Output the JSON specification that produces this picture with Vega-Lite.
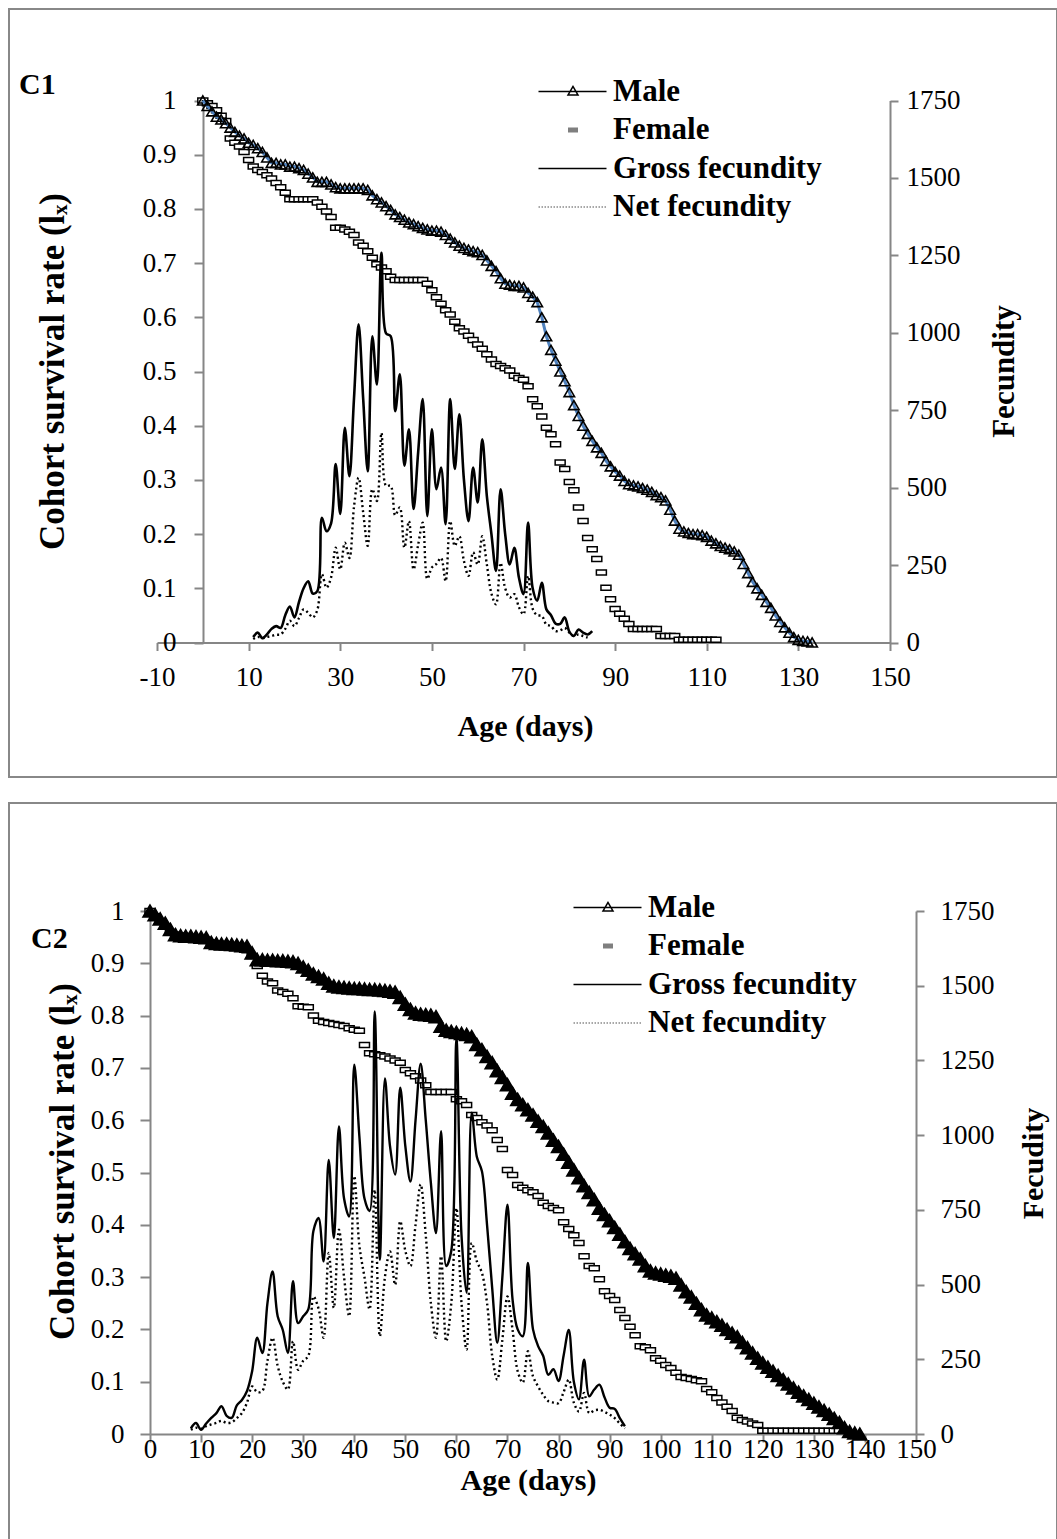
{
"$schema": "https://vega.github.io/schema/vega-lite/v6.json",
"padding": {"left": 8, "top": 8, "right": 1, "bottom": 0},
"background": "white",
"spacing": 24,
"config": {
  "view": {"stroke": "#888888", "strokeWidth": 2},
  "axis": {"domainColor": "#868686", "domainWidth": 2, "tickColor": "#868686", "tickWidth": 2, "tickSize": 8, "grid": false,
    "labelFont": "Liberation Serif", "labelFontSize": 27, "labelColor": "black", "labelOverlap": false, "labelFlush": false,
    "titleFont": "Liberation Serif", "titleFontSize": 30, "titleFontWeight": "bold", "titleColor": "black"},
  "legend": {"labelFont": "Liberation Serif", "labelFontSize": 31, "labelFontWeight": "bold", "labelColor": "black", "labelLimit": 0, "padding": 0, "symbolSize": 400, "labelOffset": 1, "rowPadding": 6.5, "direction": "vertical"}
},
"datasets": {
  "legend_items": [{"series": "Male"}, {"series": "Female"}, {"series": "Gross fecundity"}, {"series": "Net fecundity"}],
  "c1_male": [{"age":0,"lx":1},{"age":1,"lx":0.99},{"age":2,"lx":0.98},{"age":3,"lx":0.97},{"age":4,"lx":0.965},{"age":5,"lx":0.958},{"age":6,"lx":0.95},{"age":7,"lx":0.942},{"age":8,"lx":0.935},{"age":9,"lx":0.93},
    {"age":10,"lx":0.922},{"age":11,"lx":0.918},{"age":12,"lx":0.912},{"age":13,"lx":0.905},{"age":14,"lx":0.895},{"age":15,"lx":0.885},{"age":16,"lx":0.885},{"age":17,"lx":0.882},{"age":18,"lx":0.882},{"age":19,"lx":0.878},
    {"age":20,"lx":0.878},{"age":21,"lx":0.875},{"age":22,"lx":0.872},{"age":23,"lx":0.865},{"age":24,"lx":0.858},{"age":25,"lx":0.85},{"age":26,"lx":0.85},{"age":27,"lx":0.85},{"age":28,"lx":0.845},{"age":29,"lx":0.84},
    {"age":30,"lx":0.838},{"age":31,"lx":0.838},{"age":32,"lx":0.838},{"age":33,"lx":0.838},{"age":34,"lx":0.838},{"age":35,"lx":0.838},{"age":36,"lx":0.835},{"age":37,"lx":0.825},{"age":38,"lx":0.818},{"age":39,"lx":0.812},
    {"age":40,"lx":0.805},{"age":41,"lx":0.798},{"age":42,"lx":0.79},{"age":43,"lx":0.785},{"age":44,"lx":0.78},{"age":45,"lx":0.775},{"age":46,"lx":0.772},{"age":47,"lx":0.768},{"age":48,"lx":0.765},{"age":49,"lx":0.762},
    {"age":50,"lx":0.76},{"age":51,"lx":0.76},{"age":52,"lx":0.758},{"age":53,"lx":0.752},{"age":54,"lx":0.745},{"age":55,"lx":0.738},{"age":56,"lx":0.732},{"age":57,"lx":0.728},{"age":58,"lx":0.725},{"age":59,"lx":0.722},
    {"age":60,"lx":0.72},{"age":61,"lx":0.715},{"age":62,"lx":0.705},{"age":63,"lx":0.695},{"age":64,"lx":0.685},{"age":65,"lx":0.672},{"age":66,"lx":0.662},{"age":67,"lx":0.66},{"age":68,"lx":0.658},{"age":69,"lx":0.658},
    {"age":70,"lx":0.655},{"age":71,"lx":0.645},{"age":72,"lx":0.638},{"age":73,"lx":0.628},{"age":74,"lx":0.6},{"age":75,"lx":0.565},{"age":76,"lx":0.54},{"age":77,"lx":0.52},{"age":78,"lx":0.5},{"age":79,"lx":0.482},
    {"age":80,"lx":0.462},{"age":81,"lx":0.438},{"age":82,"lx":0.418},{"age":83,"lx":0.4},{"age":84,"lx":0.385},{"age":85,"lx":0.372},{"age":86,"lx":0.36},{"age":87,"lx":0.35},{"age":88,"lx":0.335},{"age":89,"lx":0.325},
    {"age":90,"lx":0.315},{"age":91,"lx":0.308},{"age":92,"lx":0.298},{"age":93,"lx":0.292},{"age":94,"lx":0.29},{"age":95,"lx":0.288},{"age":96,"lx":0.285},{"age":97,"lx":0.282},{"age":98,"lx":0.278},{"age":99,"lx":0.272},
    {"age":100,"lx":0.268},{"age":101,"lx":0.262},{"age":102,"lx":0.245},{"age":103,"lx":0.225},{"age":104,"lx":0.21},{"age":105,"lx":0.205},{"age":106,"lx":0.202},{"age":107,"lx":0.2},{"age":108,"lx":0.2},{"age":109,"lx":0.198},
    {"age":110,"lx":0.195},{"age":111,"lx":0.188},{"age":112,"lx":0.183},{"age":113,"lx":0.178},{"age":114,"lx":0.175},{"age":115,"lx":0.172},{"age":116,"lx":0.168},{"age":117,"lx":0.162},{"age":118,"lx":0.145},{"age":119,"lx":0.128},
    {"age":120,"lx":0.112},{"age":121,"lx":0.1},{"age":122,"lx":0.088},{"age":123,"lx":0.075},{"age":124,"lx":0.064},{"age":125,"lx":0.05},{"age":126,"lx":0.038},{"age":127,"lx":0.028},{"age":128,"lx":0.018},{"age":129,"lx":0.01},
    {"age":130,"lx":0.005},{"age":131,"lx":0.003},{"age":132,"lx":0.002},{"age":133,"lx":0}],
  "c1_female": [{"age":0,"lx":1},{"age":1,"lx":0.995},{"age":2,"lx":0.99},{"age":3,"lx":0.982},{"age":4,"lx":0.972},{"age":5,"lx":0.962},{"age":6,"lx":0.93},{"age":7,"lx":0.922},{"age":8,"lx":0.915},{"age":9,"lx":0.905},
    {"age":10,"lx":0.89},{"age":11,"lx":0.878},{"age":12,"lx":0.872},{"age":13,"lx":0.868},{"age":14,"lx":0.862},{"age":15,"lx":0.856},{"age":16,"lx":0.848},{"age":17,"lx":0.84},{"age":18,"lx":0.83},{"age":19,"lx":0.818},
    {"age":20,"lx":0.818},{"age":21,"lx":0.818},{"age":22,"lx":0.818},{"age":23,"lx":0.818},{"age":24,"lx":0.818},{"age":25,"lx":0.812},{"age":26,"lx":0.804},{"age":27,"lx":0.795},{"age":28,"lx":0.785},{"age":29,"lx":0.765},
    {"age":30,"lx":0.765},{"age":31,"lx":0.762},{"age":32,"lx":0.758},{"age":33,"lx":0.752},{"age":34,"lx":0.738},{"age":35,"lx":0.732},{"age":36,"lx":0.722},{"age":37,"lx":0.71},{"age":38,"lx":0.698},{"age":39,"lx":0.692},
    {"age":40,"lx":0.685},{"age":41,"lx":0.675},{"age":42,"lx":0.669},{"age":43,"lx":0.669},{"age":44,"lx":0.669},{"age":45,"lx":0.669},{"age":46,"lx":0.669},{"age":47,"lx":0.669},{"age":48,"lx":0.669},{"age":49,"lx":0.662},
    {"age":50,"lx":0.65},{"age":51,"lx":0.637},{"age":52,"lx":0.625},{"age":53,"lx":0.613},{"age":54,"lx":0.605},{"age":55,"lx":0.592},{"age":56,"lx":0.58},{"age":57,"lx":0.574},{"age":58,"lx":0.566},{"age":59,"lx":0.558},
    {"age":60,"lx":0.55},{"age":61,"lx":0.542},{"age":62,"lx":0.532},{"age":63,"lx":0.522},{"age":64,"lx":0.514},{"age":65,"lx":0.51},{"age":66,"lx":0.506},{"age":67,"lx":0.502},{"age":68,"lx":0.492},{"age":69,"lx":0.488},
    {"age":70,"lx":0.485},{"age":71,"lx":0.473},{"age":72,"lx":0.449},{"age":73,"lx":0.436},{"age":74,"lx":0.417},{"age":75,"lx":0.396},{"age":76,"lx":0.384},{"age":77,"lx":0.366},{"age":78,"lx":0.332},{"age":79,"lx":0.32},
    {"age":80,"lx":0.296},{"age":81,"lx":0.281},{"age":82,"lx":0.249},{"age":83,"lx":0.224},{"age":84,"lx":0.193},{"age":85,"lx":0.172},{"age":86,"lx":0.154},{"age":87,"lx":0.129},{"age":88,"lx":0.101},{"age":89,"lx":0.08},
    {"age":90,"lx":0.062},{"age":91,"lx":0.053},{"age":92,"lx":0.044},{"age":93,"lx":0.034},{"age":94,"lx":0.025},{"age":95,"lx":0.025},{"age":96,"lx":0.025},{"age":97,"lx":0.025},{"age":98,"lx":0.025},{"age":99,"lx":0.025},
    {"age":100,"lx":0.012},{"age":101,"lx":0.012},{"age":102,"lx":0.012},{"age":103,"lx":0.012},{"age":104,"lx":0.005},{"age":105,"lx":0.005},{"age":106,"lx":0.005},{"age":107,"lx":0.005},{"age":108,"lx":0.005},{"age":109,"lx":0.005},
    {"age":110,"lx":0.005},{"age":111,"lx":0.005},{"age":112,"lx":0.005}],
  "c1_gross": [{"age":11,"fecundity":18},{"age":12,"fecundity":32},{"age":13,"fecundity":14},{"age":14,"fecundity":26},{"age":15,"fecundity":44},{"age":16,"fecundity":53},{"age":17,"fecundity":47},{"age":18,"fecundity":88},{"age":19,"fecundity":116},{"age":20,"fecundity":81},
    {"age":21,"fecundity":131},{"age":22,"fecundity":175},{"age":23,"fecundity":198},{"age":24,"fecundity":158},{"age":25,"fecundity":166},{"age":26,"fecundity":403},{"age":27,"fecundity":359},{"age":28,"fecundity":385},{"age":29,"fecundity":576},{"age":30,"fecundity":415},
    {"age":31,"fecundity":693},{"age":32,"fecundity":537},{"age":33,"fecundity":788},{"age":34,"fecundity":1027},{"age":35,"fecundity":788},{"age":36,"fecundity":553},{"age":37,"fecundity":989},{"age":38,"fecundity":833},{"age":39,"fecundity":1258},{"age":40,"fecundity":998},
    {"age":41,"fecundity":989},{"age":42,"fecundity":747},{"age":43,"fecundity":866},{"age":44,"fecundity":571},{"age":45,"fecundity":688},{"age":46,"fecundity":431},{"age":47,"fecundity":613},{"age":48,"fecundity":786},{"age":49,"fecundity":408},{"age":50,"fecundity":688},
    {"age":51,"fecundity":495},{"age":52,"fecundity":565},{"age":53,"fecundity":382},{"age":54,"fecundity":786},{"age":55,"fecundity":560},{"age":56,"fecundity":737},{"age":57,"fecundity":525},{"age":58,"fecundity":392},{"age":59,"fecundity":565},{"age":60,"fecundity":452},
    {"age":61,"fecundity":656},{"age":62,"fecundity":473},{"age":63,"fecundity":350},{"age":64,"fecundity":231},{"age":65,"fecundity":495},{"age":66,"fecundity":350},{"age":67,"fecundity":252},{"age":68,"fecundity":306},{"age":69,"fecundity":210},{"age":70,"fecundity":156},
    {"age":71,"fecundity":387},{"age":72,"fecundity":175},{"age":73,"fecundity":135},{"age":74,"fecundity":193},{"age":75,"fecundity":107},{"age":76,"fecundity":88},{"age":77,"fecundity":61},{"age":78,"fecundity":60},{"age":79,"fecundity":81},{"age":80,"fecundity":35},
    {"age":81,"fecundity":21},{"age":82,"fecundity":42},{"age":83,"fecundity":32},{"age":84,"fecundity":26},{"age":85,"fecundity":37}],
  "c1_net": [{"age":11,"fecundity":11},{"age":12,"fecundity":18},{"age":13,"fecundity":14},{"age":14,"fecundity":18},{"age":15,"fecundity":21},{"age":16,"fecundity":25},{"age":17,"fecundity":26},{"age":18,"fecundity":44},{"age":19,"fecundity":70},{"age":20,"fecundity":53},
    {"age":21,"fecundity":79},{"age":22,"fecundity":107},{"age":23,"fecundity":96},{"age":24,"fecundity":81},{"age":25,"fecundity":105},{"age":26,"fecundity":221},{"age":27,"fecundity":177},{"age":28,"fecundity":210},{"age":29,"fecundity":306},{"age":30,"fecundity":236},
    {"age":31,"fecundity":322},{"age":32,"fecundity":273},{"age":33,"fecundity":438},{"age":34,"fecundity":532},{"age":35,"fecundity":420},{"age":36,"fecundity":312},{"age":37,"fecundity":495},{"age":38,"fecundity":457},{"age":39,"fecundity":677},{"age":40,"fecundity":506},
    {"age":41,"fecundity":506},{"age":42,"fecundity":411},{"age":43,"fecundity":436},{"age":44,"fecundity":306},{"age":45,"fecundity":392},{"age":46,"fecundity":236},{"age":47,"fecundity":315},{"age":48,"fecundity":387},{"age":49,"fecundity":205},{"age":50,"fecundity":242},
    {"age":51,"fecundity":254},{"age":52,"fecundity":273},{"age":53,"fecundity":198},{"age":54,"fecundity":392},{"age":55,"fecundity":312},{"age":56,"fecundity":343},{"age":57,"fecundity":263},{"age":58,"fecundity":215},{"age":59,"fecundity":291},{"age":60,"fecundity":252},
    {"age":61,"fecundity":343},{"age":62,"fecundity":252},{"age":63,"fecundity":158},{"age":64,"fecundity":123},{"age":65,"fecundity":257},{"age":66,"fecundity":175},{"age":67,"fecundity":145},{"age":68,"fecundity":156},{"age":69,"fecundity":114},{"age":70,"fecundity":91},
    {"age":71,"fecundity":215},{"age":72,"fecundity":109},{"age":73,"fecundity":88},{"age":74,"fecundity":86},{"age":75,"fecundity":58},{"age":76,"fecundity":53},{"age":77,"fecundity":37},{"age":78,"fecundity":39},{"age":79,"fecundity":47},{"age":80,"fecundity":32},
    {"age":81,"fecundity":21},{"age":82,"fecundity":26},{"age":83,"fecundity":21},{"age":84,"fecundity":16}],
  "c2_male": [{"age":0,"lx":1},{"age":1,"lx":0.993},{"age":2,"lx":0.985},{"age":3,"lx":0.977},{"age":4,"lx":0.965},{"age":5,"lx":0.955},{"age":6,"lx":0.953},{"age":7,"lx":0.952},{"age":8,"lx":0.952},{"age":9,"lx":0.951},
    {"age":10,"lx":0.95},{"age":11,"lx":0.949},{"age":12,"lx":0.94},{"age":13,"lx":0.938},{"age":14,"lx":0.937},{"age":15,"lx":0.937},{"age":16,"lx":0.936},{"age":17,"lx":0.935},{"age":18,"lx":0.934},{"age":19,"lx":0.933},
    {"age":20,"lx":0.92},{"age":21,"lx":0.907},{"age":22,"lx":0.907},{"age":23,"lx":0.906},{"age":24,"lx":0.906},{"age":25,"lx":0.905},{"age":26,"lx":0.905},{"age":27,"lx":0.904},{"age":28,"lx":0.903},{"age":29,"lx":0.9},
    {"age":30,"lx":0.893},{"age":31,"lx":0.887},{"age":32,"lx":0.88},{"age":33,"lx":0.875},{"age":34,"lx":0.87},{"age":35,"lx":0.862},{"age":36,"lx":0.857},{"age":37,"lx":0.855},{"age":38,"lx":0.854},{"age":39,"lx":0.853},
    {"age":40,"lx":0.852},{"age":41,"lx":0.852},{"age":42,"lx":0.851},{"age":43,"lx":0.85},{"age":44,"lx":0.85},{"age":45,"lx":0.849},{"age":46,"lx":0.848},{"age":47,"lx":0.847},{"age":48,"lx":0.845},{"age":49,"lx":0.835},
    {"age":50,"lx":0.822},{"age":51,"lx":0.812},{"age":52,"lx":0.805},{"age":53,"lx":0.803},{"age":54,"lx":0.802},{"age":55,"lx":0.801},{"age":56,"lx":0.798},{"age":57,"lx":0.78},{"age":58,"lx":0.772},{"age":59,"lx":0.77},
    {"age":60,"lx":0.768},{"age":61,"lx":0.766},{"age":62,"lx":0.764},{"age":63,"lx":0.76},{"age":64,"lx":0.745},{"age":65,"lx":0.735},{"age":66,"lx":0.722},{"age":67,"lx":0.71},{"age":68,"lx":0.695},{"age":69,"lx":0.682},
    {"age":70,"lx":0.668},{"age":71,"lx":0.652},{"age":72,"lx":0.64},{"age":73,"lx":0.63},{"age":74,"lx":0.62},{"age":75,"lx":0.61},{"age":76,"lx":0.598},{"age":77,"lx":0.588},{"age":78,"lx":0.576},{"age":79,"lx":0.562},
    {"age":80,"lx":0.55},{"age":81,"lx":0.535},{"age":82,"lx":0.52},{"age":83,"lx":0.505},{"age":84,"lx":0.49},{"age":85,"lx":0.475},{"age":86,"lx":0.462},{"age":87,"lx":0.448},{"age":88,"lx":0.432},{"age":89,"lx":0.42},
    {"age":90,"lx":0.408},{"age":91,"lx":0.395},{"age":92,"lx":0.382},{"age":93,"lx":0.368},{"age":94,"lx":0.355},{"age":95,"lx":0.345},{"age":96,"lx":0.335},{"age":97,"lx":0.322},{"age":98,"lx":0.312},{"age":99,"lx":0.308},
    {"age":100,"lx":0.306},{"age":101,"lx":0.304},{"age":102,"lx":0.302},{"age":103,"lx":0.298},{"age":104,"lx":0.285},{"age":105,"lx":0.272},{"age":106,"lx":0.262},{"age":107,"lx":0.25},{"age":108,"lx":0.238},{"age":109,"lx":0.228},
    {"age":110,"lx":0.222},{"age":111,"lx":0.215},{"age":112,"lx":0.208},{"age":113,"lx":0.2},{"age":114,"lx":0.193},{"age":115,"lx":0.186},{"age":116,"lx":0.175},{"age":117,"lx":0.165},{"age":118,"lx":0.155},{"age":119,"lx":0.145},
    {"age":120,"lx":0.136},{"age":121,"lx":0.128},{"age":122,"lx":0.12},{"age":123,"lx":0.112},{"age":124,"lx":0.104},{"age":125,"lx":0.096},{"age":126,"lx":0.088},{"age":127,"lx":0.08},{"age":128,"lx":0.073},{"age":129,"lx":0.066},
    {"age":130,"lx":0.059},{"age":131,"lx":0.052},{"age":132,"lx":0.045},{"age":133,"lx":0.038},{"age":134,"lx":0.03},{"age":135,"lx":0.022},{"age":136,"lx":0.012},{"age":137,"lx":0.005},{"age":138,"lx":0.002},{"age":139,"lx":0}],
  "c2_female": [{"age":0,"lx":1},{"age":1,"lx":0.99},{"age":2,"lx":0.98},{"age":3,"lx":0.97},{"age":4,"lx":0.96},{"age":5,"lx":0.955},{"age":6,"lx":0.953},{"age":7,"lx":0.952},{"age":8,"lx":0.951},{"age":9,"lx":0.95},
    {"age":10,"lx":0.948},{"age":11,"lx":0.945},{"age":12,"lx":0.94},{"age":13,"lx":0.938},{"age":14,"lx":0.937},{"age":15,"lx":0.936},{"age":16,"lx":0.935},{"age":17,"lx":0.934},{"age":18,"lx":0.933},{"age":19,"lx":0.925},
    {"age":20,"lx":0.914},{"age":21,"lx":0.895},{"age":22,"lx":0.876},{"age":23,"lx":0.865},{"age":24,"lx":0.862},{"age":25,"lx":0.848},{"age":26,"lx":0.845},{"age":27,"lx":0.842},{"age":28,"lx":0.833},{"age":29,"lx":0.818},
    {"age":30,"lx":0.817},{"age":31,"lx":0.816},{"age":32,"lx":0.8},{"age":33,"lx":0.79},{"age":34,"lx":0.788},{"age":35,"lx":0.786},{"age":36,"lx":0.784},{"age":37,"lx":0.782},{"age":38,"lx":0.78},{"age":39,"lx":0.776},
    {"age":40,"lx":0.773},{"age":41,"lx":0.771},{"age":42,"lx":0.744},{"age":43,"lx":0.728},{"age":44,"lx":0.726},{"age":45,"lx":0.724},{"age":46,"lx":0.722},{"age":47,"lx":0.718},{"age":48,"lx":0.714},{"age":49,"lx":0.71},
    {"age":50,"lx":0.696},{"age":51,"lx":0.69},{"age":52,"lx":0.684},{"age":53,"lx":0.676},{"age":54,"lx":0.667},{"age":55,"lx":0.654},{"age":56,"lx":0.654},{"age":57,"lx":0.654},{"age":58,"lx":0.654},{"age":59,"lx":0.654},
    {"age":60,"lx":0.64},{"age":61,"lx":0.636},{"age":62,"lx":0.629},{"age":63,"lx":0.61},{"age":64,"lx":0.604},{"age":65,"lx":0.596},{"age":66,"lx":0.59},{"age":67,"lx":0.581},{"age":68,"lx":0.562},{"age":69,"lx":0.545},
    {"age":70,"lx":0.505},{"age":71,"lx":0.495},{"age":72,"lx":0.476},{"age":73,"lx":0.471},{"age":74,"lx":0.466},{"age":75,"lx":0.462},{"age":76,"lx":0.455},{"age":77,"lx":0.442},{"age":78,"lx":0.436},{"age":79,"lx":0.432},
    {"age":80,"lx":0.428},{"age":81,"lx":0.405},{"age":82,"lx":0.392},{"age":83,"lx":0.38},{"age":84,"lx":0.365},{"age":85,"lx":0.34},{"age":86,"lx":0.321},{"age":87,"lx":0.317},{"age":88,"lx":0.296},{"age":89,"lx":0.273},
    {"age":90,"lx":0.264},{"age":91,"lx":0.256},{"age":92,"lx":0.237},{"age":93,"lx":0.222},{"age":94,"lx":0.205},{"age":95,"lx":0.189},{"age":96,"lx":0.168},{"age":97,"lx":0.166},{"age":98,"lx":0.16},{"age":99,"lx":0.145},
    {"age":100,"lx":0.14},{"age":101,"lx":0.132},{"age":102,"lx":0.126},{"age":103,"lx":0.117},{"age":104,"lx":0.109},{"age":105,"lx":0.107},{"age":106,"lx":0.105},{"age":107,"lx":0.103},{"age":108,"lx":0.101},{"age":109,"lx":0.086},
    {"age":110,"lx":0.08},{"age":111,"lx":0.069},{"age":112,"lx":0.06},{"age":113,"lx":0.052},{"age":114,"lx":0.044},{"age":115,"lx":0.031},{"age":116,"lx":0.027},{"age":117,"lx":0.024},{"age":118,"lx":0.02},{"age":119,"lx":0.017},
    {"age":120,"lx":0.006},{"age":121,"lx":0.006},{"age":122,"lx":0.006},{"age":123,"lx":0.006},{"age":124,"lx":0.006},{"age":125,"lx":0.006},{"age":126,"lx":0.006},{"age":127,"lx":0.006},{"age":128,"lx":0.006},{"age":129,"lx":0.006},
    {"age":130,"lx":0.006},{"age":131,"lx":0.006},{"age":132,"lx":0.006},{"age":133,"lx":0.006},{"age":134,"lx":0.006},{"age":135,"lx":0.006}],
  "c2_gross": [{"age":8,"fecundity":19},{"age":9,"fecundity":37},{"age":10,"fecundity":14},{"age":11,"fecundity":35},{"age":12,"fecundity":54},{"age":13,"fecundity":70},{"age":14,"fecundity":93},{"age":15,"fecundity":61},{"age":16,"fecundity":54},{"age":17,"fecundity":96},
    {"age":18,"fecundity":114},{"age":19,"fecundity":144},{"age":20,"fecundity":210},{"age":21,"fecundity":322},{"age":22,"fecundity":271},{"age":23,"fecundity":438},{"age":24,"fecundity":544},{"age":25,"fecundity":394},{"age":26,"fecundity":348},{"age":27,"fecundity":271},
    {"age":28,"fecundity":511},{"age":29,"fecundity":371},{"age":30,"fecundity":394},{"age":31,"fecundity":417},{"age":32,"fecundity":679},{"age":33,"fecundity":723},{"age":34,"fecundity":578},{"age":35,"fecundity":917},{"age":36,"fecundity":656},{"age":37,"fecundity":1029},
    {"age":38,"fecundity":788},{"age":39,"fecundity":728},{"age":40,"fecundity":1236},{"age":41,"fecundity":996},{"age":42,"fecundity":788},{"age":43,"fecundity":746},{"age":44,"fecundity":1414},{"age":45,"fecundity":583},{"age":46,"fecundity":1190},{"age":47,"fecundity":963},
    {"age":48,"fecundity":868},{"age":49,"fecundity":1159},{"age":50,"fecundity":963},{"age":51,"fecundity":845},{"age":52,"fecundity":1050},{"age":53,"fecundity":1239},{"age":54,"fecundity":1050},{"age":55,"fecundity":840},{"age":56,"fecundity":672},{"age":57,"fecundity":1013},
    {"age":58,"fecundity":562},{"age":59,"fecundity":613},{"age":60,"fecundity":1325},{"age":61,"fecundity":665},{"age":62,"fecundity":473},{"age":63,"fecundity":1075},{"age":64,"fecundity":928},{"age":65,"fecundity":879},{"age":66,"fecundity":700},{"age":67,"fecundity":490},
    {"age":68,"fecundity":305},{"age":69,"fecundity":525},{"age":70,"fecundity":767},{"age":71,"fecundity":450},{"age":72,"fecundity":350},{"age":73,"fecundity":327},{"age":74,"fecundity":572},{"age":75,"fecundity":350},{"age":76,"fecundity":294},{"age":77,"fecundity":261},
    {"age":78,"fecundity":198},{"age":79,"fecundity":217},{"age":80,"fecundity":177},{"age":81,"fecundity":263},{"age":82,"fecundity":348},{"age":83,"fecundity":175},{"age":84,"fecundity":116},{"age":85,"fecundity":249},{"age":86,"fecundity":126},{"age":87,"fecundity":149},
    {"age":88,"fecundity":165},{"age":89,"fecundity":123},{"age":90,"fecundity":88},{"age":91,"fecundity":84},{"age":92,"fecundity":53},{"age":93,"fecundity":26}],
  "c2_net": [{"age":8,"fecundity":14},{"age":9,"fecundity":21},{"age":10,"fecundity":18},{"age":11,"fecundity":26},{"age":12,"fecundity":32},{"age":13,"fecundity":37},{"age":14,"fecundity":44},{"age":15,"fecundity":37},{"age":16,"fecundity":39},{"age":17,"fecundity":53},
    {"age":18,"fecundity":70},{"age":19,"fecundity":105},{"age":20,"fecundity":159},{"age":21,"fecundity":140},{"age":22,"fecundity":144},{"age":23,"fecundity":245},{"age":24,"fecundity":322},{"age":25,"fecundity":228},{"age":26,"fecundity":175},{"age":27,"fecundity":149},
    {"age":28,"fecundity":310},{"age":29,"fecundity":215},{"age":30,"fecundity":245},{"age":31,"fecundity":261},{"age":32,"fecundity":460},{"age":33,"fecundity":420},{"age":34,"fecundity":322},{"age":35,"fecundity":606},{"age":36,"fecundity":422},{"age":37,"fecundity":684},
    {"age":38,"fecundity":525},{"age":39,"fecundity":394},{"age":40,"fecundity":863},{"age":41,"fecundity":630},{"age":42,"fecundity":525},{"age":43,"fecundity":417},{"age":44,"fecundity":817},{"age":45,"fecundity":327},{"age":46,"fecundity":525},{"age":47,"fecundity":611},
    {"age":48,"fecundity":499},{"age":49,"fecundity":712},{"age":50,"fecundity":613},{"age":51,"fecundity":562},{"age":52,"fecundity":700},{"age":53,"fecundity":835},{"age":54,"fecundity":665},{"age":55,"fecundity":438},{"age":56,"fecundity":322},{"age":57,"fecundity":595},
    {"age":58,"fecundity":310},{"age":59,"fecundity":438},{"age":60,"fecundity":756},{"age":61,"fecundity":438},{"age":62,"fecundity":282},{"age":63,"fecundity":639},{"age":64,"fecundity":578},{"age":65,"fecundity":539},{"age":66,"fecundity":438},{"age":67,"fecundity":263},
    {"age":68,"fecundity":182},{"age":69,"fecundity":315},{"age":70,"fecundity":460},{"age":71,"fecundity":348},{"age":72,"fecundity":210},{"age":73,"fecundity":172},{"age":74,"fecundity":277},{"age":75,"fecundity":193},{"age":76,"fecundity":159},{"age":77,"fecundity":131},
    {"age":78,"fecundity":110},{"age":79,"fecundity":105},{"age":80,"fecundity":103},{"age":81,"fecundity":140},{"age":82,"fecundity":182},{"age":83,"fecundity":105},{"age":84,"fecundity":75},{"age":85,"fecundity":137},{"age":86,"fecundity":70},{"age":87,"fecundity":79},
    {"age":88,"fecundity":81},{"age":89,"fecundity":74},{"age":90,"fecundity":65},{"age":91,"fecundity":53},{"age":92,"fecundity":35},{"age":93,"fecundity":19}]
},
"resolve": {
  "scale": {"fill": "independent", "stroke": "independent", "shape": "independent", "strokeDash": "independent"},
  "legend": {"fill": "independent", "stroke": "independent", "shape": "independent", "strokeDash": "independent"}
},
"vconcat": [
  {
    "width": 1048, "height": 768,
    "title": {"text": "C1", "anchor": "start", "frame": "group", "offset": -106, "dx": 10, "baseline": "middle", "font": "Liberation Serif", "fontSize": 30, "fontWeight": "bold", "color": "black"},
    "layer": [
      {
        "layer": [
          {
            "data": {"name": "c1_female"},
            "mark": {"type": "point", "shape": "M-1,-0.5H1V0.5H-1Z", "size": 100, "filled": true, "fill": "white", "stroke": "black", "strokeWidth": 1.5, "opacity": 1},
            "encoding": {
              "x": {"field": "age", "type": "quantitative",
                "scale": {"domain": [-10, 150], "range": [148, 881], "nice": false, "zero": false},
                "axis": {"orient": "bottom", "offset": -134.5, "values": [-10, 10, 30, 50, 70, 90, 110, 130, 150], "labelExpr": "'' + datum.value", "tickSize": 8, "labelPadding": 27, "labelBaseline": "middle",
                  "title": "Age (days)", "titleX": 516, "titleY": 83.5, "titleBaseline": "middle", "titleAlign": "center"}},
              "y": {"field": "lx", "type": "quantitative",
                "scale": {"domain": [0, 1], "range": [633.5, 91.5], "nice": false, "zero": false},
                "axis": {"orient": "left", "offset": -194, "values": [0, 0.1, 0.2, 0.3, 0.4, 0.5, 0.6, 0.7, 0.8, 0.9, 1], "format": ".1~f", "tickSize": 9, "labelPadding": 18,
                  "title": "Cohort survival rate (lₓ)", "titleFontSize": 35, "titleAngle": 270, "titleX": -151, "titleY": 362, "titleBaseline": "middle", "titleAlign": "center"}}
            }
          },
          {
            "data": {"name": "c1_male"},
            "mark": {"type": "line", "color": "#4f81bd", "strokeWidth": 3},
            "encoding": {"x": {"field": "age", "type": "quantitative"}, "y": {"field": "lx", "type": "quantitative"}}
          },
          {
            "data": {"name": "c1_male"},
            "mark": {"type": "point", "shape": "triangle-up", "size": 110, "filled": false, "stroke": "black", "strokeWidth": 1.6, "opacity": 1},
            "encoding": {"x": {"field": "age", "type": "quantitative"}, "y": {"field": "lx", "type": "quantitative"}}
          },
          {
            "data": {"name": "legend_items"},
            "transform": [{"filter": "false"}],
            "mark": {"type": "point", "strokeWidth": 2.2, "opacity": 1},
            "encoding": {
              "fill": {"field": "series", "type": "nominal", "title": null,
                "scale": {"domain": ["Male", "Female", "Gross fecundity", "Net fecundity"], "range": ["white", "#7f7f7f", "transparent", "transparent"]},
                "legend": {"orient": "none", "legendX": 572, "legendY": 67, "title": null}},
              "stroke": {"field": "series", "type": "nominal", "title": null,
                "scale": {"domain": ["Male", "Female", "Gross fecundity", "Net fecundity"], "range": ["black", "transparent", "black", "#8a8a8a"]}},
              "shape": {"field": "series", "type": "nominal", "title": null,
                "scale": {"domain": ["Male", "Female", "Gross fecundity", "Net fecundity"], "range": ["M-5.8,0H1M-2.85,0.35L-2.35,-0.5L-1.85,0.35Z", "M-2.85,-0.25H-1.85V0.25H-2.85Z", "M-5.8,0H1", "M-5.8,0H1"]}},
              "strokeDash": {"field": "series", "type": "nominal", "title": null,
                "scale": {"domain": ["Male", "Female", "Gross fecundity", "Net fecundity"], "range": [[1, 0], [1, 0], [1, 0], [1.5, 1.5]]}}
            }
          }
        ]
      },
      {
        "layer": [
          {
            "data": {"name": "c1_gross"},
            "mark": {"type": "line", "interpolate": "catmull-rom", "color": "black", "strokeWidth": 2.6},
            "encoding": {
              "x": {"field": "age", "type": "quantitative"},
              "y": {"field": "fecundity", "type": "quantitative",
                "scale": {"domain": [0, 1750], "range": [633.5, 91.5], "nice": false, "zero": false},
                "axis": {"orient": "right", "offset": -167, "values": [0, 250, 500, 750, 1000, 1250, 1500, 1750], "format": "d", "tickSize": 8, "labelPadding": 8,
                  "title": "Fecundity", "titleFontSize": 31, "titleAngle": 270, "titleX": 114, "titleY": 362, "titleBaseline": "middle", "titleAlign": "center"}}
            }
          },
          {
            "data": {"name": "c1_net"},
            "mark": {"type": "line", "interpolate": "catmull-rom", "color": "black", "strokeWidth": 2.4, "strokeDash": [2, 3]},
            "encoding": {"x": {"field": "age", "type": "quantitative"}, "y": {"field": "fecundity", "type": "quantitative"}}
          }
        ]
      }
    ],
    "resolve": {"scale": {"y": "independent"}, "axis": {"y": "independent"}}
  },
  {
    "width": 1048, "height": 739,
    "title": {"text": "C2", "anchor": "start", "frame": "group", "offset": -166, "dx": 22, "baseline": "middle", "font": "Liberation Serif", "fontSize": 30, "fontWeight": "bold", "color": "black"},
    "layer": [
      {
        "layer": [
          {
            "data": {"name": "c2_female"},
            "mark": {"type": "point", "shape": "M-1,-0.5H1V0.5H-1Z", "size": 100, "filled": true, "fill": "white", "stroke": "black", "strokeWidth": 1.5, "opacity": 1},
            "encoding": {
              "x": {"field": "age", "type": "quantitative",
                "scale": {"domain": [0, 150], "range": [141, 907], "nice": false, "zero": false},
                "axis": {"orient": "bottom", "offset": -108, "values": [0, 10, 20, 30, 40, 50, 60, 70, 80, 90, 100, 110, 120, 130, 140, 150], "tickSize": 8, "labelPadding": 7, "labelBaseline": "middle",
                  "title": "Age (days)", "titleX": 519, "titleY": 46, "titleBaseline": "middle", "titleAlign": "center"}},
              "y": {"field": "lx", "type": "quantitative",
                "scale": {"domain": [0, 1], "range": [631, 108], "nice": false, "zero": false},
                "axis": {"orient": "left", "offset": -141, "values": [0, 0.1, 0.2, 0.3, 0.4, 0.5, 0.6, 0.7, 0.8, 0.9, 1], "format": ".1~f", "tickSize": 10, "labelPadding": 16,
                  "title": "Cohort survival rate (lₓ)", "titleFontSize": 35, "titleAngle": 270, "titleX": -88, "titleY": 358, "titleBaseline": "middle", "titleAlign": "center"}}
            }
          },
          {
            "data": {"name": "c2_male"},
            "mark": {"type": "line", "color": "black", "strokeWidth": 3.5},
            "encoding": {"x": {"field": "age", "type": "quantitative"}, "y": {"field": "lx", "type": "quantitative"}}
          },
          {
            "data": {"name": "c2_male"},
            "mark": {"type": "point", "shape": "triangle-up", "size": 200, "filled": true, "fill": "black", "stroke": "black", "strokeWidth": 1.5, "opacity": 1},
            "encoding": {"x": {"field": "age", "type": "quantitative"}, "y": {"field": "lx", "type": "quantitative"}}
          },
          {
            "data": {"name": "legend_items"},
            "transform": [{"filter": "false"}],
            "mark": {"type": "point", "strokeWidth": 2.2, "opacity": 1},
            "encoding": {
              "fill": {"field": "series", "type": "nominal", "title": null,
                "scale": {"domain": ["Male", "Female", "Gross fecundity", "Net fecundity"], "range": ["white", "#7f7f7f", "transparent", "transparent"]},
                "legend": {"orient": "none", "legendX": 607, "legendY": 89, "title": null}},
              "stroke": {"field": "series", "type": "nominal", "title": null,
                "scale": {"domain": ["Male", "Female", "Gross fecundity", "Net fecundity"], "range": ["black", "transparent", "black", "#8a8a8a"]}},
              "shape": {"field": "series", "type": "nominal", "title": null,
                "scale": {"domain": ["Male", "Female", "Gross fecundity", "Net fecundity"], "range": ["M-5.8,0H1M-2.85,0.35L-2.35,-0.5L-1.85,0.35Z", "M-2.85,-0.25H-1.85V0.25H-2.85Z", "M-5.8,0H1", "M-5.8,0H1"]}},
              "strokeDash": {"field": "series", "type": "nominal", "title": null,
                "scale": {"domain": ["Male", "Female", "Gross fecundity", "Net fecundity"], "range": [[1, 0], [1, 0], [1, 0], [1.5, 1.5]]}}
            }
          }
        ]
      },
      {
        "layer": [
          {
            "data": {"name": "c2_gross"},
            "mark": {"type": "line", "interpolate": "catmull-rom", "color": "black", "strokeWidth": 2.4},
            "encoding": {
              "x": {"field": "age", "type": "quantitative"},
              "y": {"field": "fecundity", "type": "quantitative",
                "scale": {"domain": [0, 1750], "range": [631, 108], "nice": false, "zero": false},
                "axis": {"orient": "right", "offset": -141, "values": [0, 250, 500, 750, 1000, 1250, 1500, 1750], "format": "d", "tickSize": 8, "labelPadding": 16,
                  "title": "Fecudity", "titleAngle": 270, "titleX": 117, "titleY": 360, "titleBaseline": "middle", "titleAlign": "center"}}
            }
          },
          {
            "data": {"name": "c2_net"},
            "mark": {"type": "line", "interpolate": "catmull-rom", "color": "black", "strokeWidth": 2.4, "strokeDash": [2, 3]},
            "encoding": {"x": {"field": "age", "type": "quantitative"}, "y": {"field": "fecundity", "type": "quantitative"}}
          }
        ]
      }
    ],
    "resolve": {"scale": {"y": "independent"}, "axis": {"y": "independent"}}
  }
]
}
